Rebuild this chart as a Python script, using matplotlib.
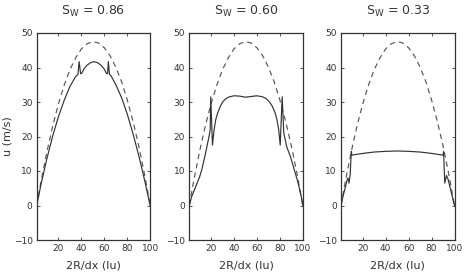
import matplotlib
matplotlib.use("Agg")
import matplotlib.pyplot as plt

# Reference (dashed) profile
x_ref = [1, 5, 10, 15, 20, 25, 30, 35, 40, 45, 50, 55, 60, 65, 70, 75, 80, 85, 90, 95, 100]
u_ref = [0, 7.4, 15.7, 23.1, 29.5, 34.9, 39.4, 42.8, 45.4, 46.9, 47.5, 47.1, 45.7, 43.4, 40.1,
         35.9, 30.6, 24.4, 17.3, 9.1, 0]

# Sw = 0.86
x_86 = [1, 5, 10, 15, 20, 25, 30, 35, 37, 38, 39.3, 40.3, 42, 45, 48, 51, 54, 57, 60, 61.8,
        62.8, 63.5, 64.5, 66, 70, 75, 80, 85, 90, 95, 100]
u_86 = [0, 6.5, 13.7, 20.2, 25.8, 30.5, 34.5, 37.4, 38.0, 41.7, 38.2, 38.3, 39.5, 40.7, 41.4,
        41.7, 41.4, 40.7, 39.5, 38.3, 38.2, 41.7, 38.0, 37.5, 35.0, 31.3, 26.5, 20.8, 14.5, 7.5, 0]

# Sw = 0.60
x_60 = [1, 2, 3, 4, 7, 10, 12, 14.4, 16, 18.2, 19.2, 19.7, 21.2, 22.6, 24, 25.6, 28, 30, 33,
        36, 40, 45, 50, 55, 60, 65, 68, 71, 73.5, 76, 77.5, 79, 80.3, 82, 83.4, 86, 89.3, 92,
        95.2, 97, 99, 100]
u_60 = [0, 1.2, 2.5, 3.3, 5.8, 8.3, 10.5, 14.0, 16.5, 20.0, 22.0, 31.5, 17.5, 21.9, 24.8, 26.7,
        28.7, 30.0, 31.0, 31.5, 31.8, 31.7, 31.4, 31.6, 31.8, 31.5, 31.0, 30.0, 28.7, 26.7, 24.8,
        21.9, 17.5, 31.5, 21.0, 17.0, 14.1, 11.0, 7.4, 5.0, 2.0, 0]

# Sw = 0.33
x_33 = [1, 3, 5, 6, 7, 8, 9, 10, 10.5, 20, 30, 40, 50, 60, 70, 80, 90, 90.5, 91.5, 93, 94.5,
        97, 100]
u_33 = [0, 3.0, 5.5, 7.0, 8.0, 6.5, 9.0, 15.7, 14.6, 15.1, 15.5, 15.7, 15.8, 15.7, 15.5, 15.1,
        14.6, 15.6, 6.5, 8.7, 7.5, 4.0, 0]

titles = ["0.86", "0.60", "0.33"]
series = [(x_86, u_86), (x_60, u_60), (x_33, u_33)]
xticks = [20, 40, 60, 80, 100]
yticks = [-10, 0, 10, 20, 30, 40, 50]

plt.rcParams['font.family'] = ['DejaVu Sans']
plt.rcParams['mathtext.fontset'] = 'dejavusans'

W, H = 467, 272
fig = plt.figure(figsize=(W / 100, H / 100), dpi=100)

lefts = [36.7, 189.3, 341.0]
axw = 113.5
top_px, bot_px = 33, 240
for i, (left, (xs, us), t) in enumerate(zip(lefts, series, titles)):
    ax = fig.add_axes([left / W, 1 - bot_px / H, axw / W, (bot_px - top_px) / H])
    ax.plot(x_ref, u_ref, color='#555555', lw=0.85, ls=(0, (4.5, 3.5)))
    ax.plot(xs, us, color='#333333', lw=0.85)
    ax.set_xlim(1, 100)
    ax.set_ylim(-10, 50)
    ax.set_xticks(xticks)
    ax.set_yticks(yticks)
    ax.set_yticklabels(['\u221210' if v == -10 else str(v) for v in yticks])
    ax.tick_params(direction='in', top=True, right=True, labelsize=6.5, length=2.5,
                   width=0.6, colors='#333333', labelcolor='#333333', pad=3)
    for s in ax.spines.values():
        s.set_color('#333333')
        s.set_linewidth(0.9)
    ax.set_title(r'S$_{\mathrm{W}}$ = ' + t, fontsize=9, color='#333333', pad=13)
    ax.set_xlabel('2R/dx (lu)', fontsize=8, color='#333333', labelpad=5)
    if i == 0:
        ax.set_ylabel('u (m/s)', fontsize=8, color='#333333')
        ax.yaxis.set_label_coords(-0.215, 0.5)

fig.savefig('out.png', dpi=100)
